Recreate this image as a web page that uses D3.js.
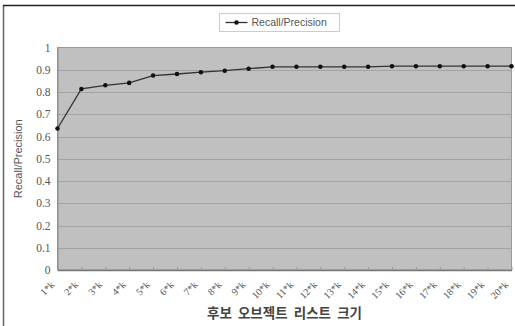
<!DOCTYPE html>
<html>
<head>
<meta charset="utf-8">
<script src="https://cdn.jsdelivr.net/npm/d3@7"></script>
<style>
  html, body { margin: 0; padding: 0; background: #fff; }
  svg { display: block; }
</style>
</head>
<body>
<svg id="chart" width="515" height="326"></svg>
<script>
// Candidate list sizes (x categories)
const categories = ["1*k","2*k","3*k","4*k","5*k","6*k","7*k","8*k","9*k","10*k",
                    "11*k","12*k","13*k","14*k","15*k","16*k","17*k","18*k","19*k","20*k"];
// Recall/Precision per list size
const recallPrecision = [0.636, 0.814, 0.830, 0.841, 0.874, 0.881, 0.889, 0.896, 0.905, 0.913,
                         0.913, 0.913, 0.913, 0.913, 0.916, 0.916, 0.916, 0.916, 0.916, 0.916];
const yTicks = [0, 0.1, 0.2, 0.3, 0.4, 0.5, 0.6, 0.7, 0.8, 0.9, 1];
const seriesName = "Recall/Precision";
const yTitle = "Recall/Precision";
const xTitle = "후보  오브젝트  리스트  크기";

const svg = d3.select("#chart");
const plot = { left: 57.5, right: 511.5, top: 47.5, bottom: 270 };

// outer frame (left and top edges)
svg.append("line").attr("x1", 3.5).attr("x2", 3.5).attr("y1", 5).attr("y2", 326)
  .attr("stroke", "#666").attr("stroke-width", 1.5);
svg.append("line").attr("x1", 3).attr("x2", 515).attr("y1", 5.5).attr("y2", 5.5)
  .attr("stroke", "#222").attr("stroke-width", 1.5);

const x = d3.scalePoint().domain(categories).range([plot.left, plot.right]);
const y = d3.scaleLinear().domain([0, 1]).range([plot.bottom, plot.top]);

// plot area
svg.append("rect")
  .attr("x", plot.left).attr("y", plot.top)
  .attr("width", plot.right - plot.left).attr("height", plot.bottom - plot.top)
  .attr("fill", "#c0c0c0").attr("stroke", "#9a9a9a").attr("stroke-width", 1);

// horizontal gridlines
svg.append("g").selectAll("line").data(yTicks.filter(d => d > 0 && d < 1)).join("line")
  .attr("x1", plot.left).attr("x2", plot.right)
  .attr("y1", d => Math.round(y(d)) + 0.5).attr("y2", d => Math.round(y(d)) + 0.5)
  .attr("stroke", "#a3a3a3").attr("stroke-width", 1);

// y axis
const yAxis = svg.append("g").attr("transform", `translate(${plot.left},0)`)
  .call(d3.axisLeft(y).tickValues(yTicks).tickSize(0).tickPadding(7).tickFormat(d3.format("")));
yAxis.select(".domain").attr("stroke", "#888");
yAxis.selectAll("text").attr("font-family", "Liberation Serif, DejaVu Serif, serif")
  .attr("font-size", 11.5).attr("fill", "#555");

// x axis
const xAxis = svg.append("g").attr("transform", `translate(0,${plot.bottom})`)
  .call(d3.axisBottom(x).tickSize(-3).tickSizeOuter(0).tickFormat(""));
xAxis.select(".domain").attr("stroke", "#777").attr("stroke-width", 1.5);
xAxis.selectAll(".tick line").attr("stroke", "#999");

// rotated category labels
svg.append("g").selectAll("text").data(categories).join("text")
  .attr("transform", d => `translate(${x(d) - 5},${plot.bottom + 13}) rotate(-45)`)
  .attr("text-anchor", "end")
  .attr("dy", "0.35em")
  .attr("font-family", "Liberation Serif, DejaVu Serif, serif")
  .attr("font-size", 10).attr("fill", "#555")
  .text(d => d);

// axis titles
svg.append("text")
  .attr("transform", `translate(22,${(plot.top + plot.bottom) / 2}) rotate(-90)`)
  .attr("text-anchor", "middle")
  .attr("font-family", "Liberation Sans, Arial, sans-serif")
  .attr("font-size", 11).attr("fill", "#555")
  .text(yTitle);

svg.append("text")
  .attr("x", (plot.left + plot.right) / 2).attr("y", 318)
  .attr("text-anchor", "middle")
  .attr("font-family", "Noto Sans CJK KR, sans-serif")
  .attr("font-size", 13.5).attr("font-weight", "bold").attr("fill", "#444")
  .style("white-space", "pre")
  .text(xTitle);

// series line
const line = d3.line().x((d, i) => x(categories[i])).y(d => y(d));
svg.append("path").datum(recallPrecision)
  .attr("d", line).attr("fill", "none")
  .attr("stroke", "#333").attr("stroke-width", 1.3);

const marker = d3.symbol().type(d3.symbolCircle).size(16);
svg.append("g").selectAll("path").data(recallPrecision).join("path")
  .attr("transform", (d, i) => `translate(${x(categories[i])},${y(d)})`)
  .attr("d", marker).attr("fill", "#111");

// legend
const lg = svg.append("g").attr("transform", "translate(219.5,13.5)");
lg.append("rect").attr("width", 120).attr("height", 18)
  .attr("fill", "#fff").attr("stroke", "#ccc");
lg.append("line").attr("x1", 6).attr("x2", 28).attr("y1", 9).attr("y2", 9)
  .attr("stroke", "#333").attr("stroke-width", 1.3);
lg.append("path").attr("transform", "translate(17,9)").attr("d", marker).attr("fill", "#111");
lg.append("text").attr("x", 32).attr("y", 9).attr("dy", "0.35em")
  .attr("font-family", "Liberation Sans, Arial, sans-serif")
  .attr("font-size", 10.5).attr("fill", "#555")
  .text(seriesName);
</script>
</body>
</html>
